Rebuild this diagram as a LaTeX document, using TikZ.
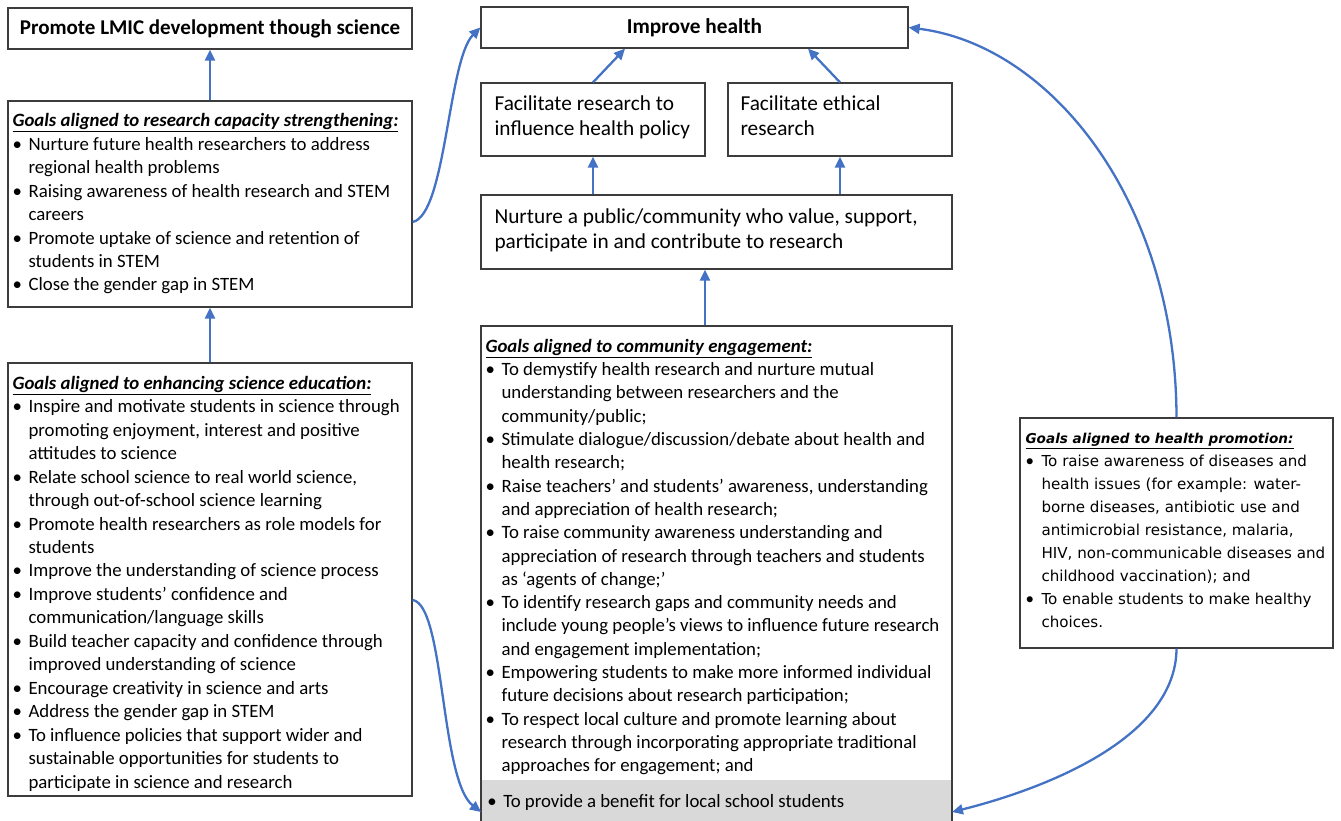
\documentclass[tikz,border=0pt]{standalone}
\usepackage{fontspec}
\setmainfont{Carlito}
\newfontfamily\verd{DejaVu Sans}
\usetikzlibrary{calc,arrows.meta}
\definecolor{arrowblue}{HTML}{4472C4}
\definecolor{boxline}{HTML}{3C3C3C}
\definecolor{greyband}{HTML}{D9D9D9}
\newcommand{\bl}{\makebox[16pt][l]{\textbullet}}
\newcommand{\hbl}{\makebox[16pt][l]{{\rmfamily\fontsize{17}{17}\selectfont\textbullet}}}
\newcommand{\hi}{\hspace*{16pt}}
\newcommand{\gtitle}[1]{\underline{\textbf{\textit{#1}}}}
\tikzset{
  box/.style={draw=boxline, line width=1.3pt, fill=white, inner sep=0pt},
  txt/.style={inner sep=0pt, anchor=north west, align=left},
  big/.style={font=\fontsize{21.3}{25}\selectfont},
  list/.style={font=\fontsize{18.8}{23.45}\selectfont},
  arr/.style={draw=arrowblue, line width=2.3pt, -{Triangle[length=11pt,width=10pt]}},
}
\begin{document}
\begin{tikzpicture}[x=1pt,y=-1pt]
\useasboundingbox (0,0) rectangle (1341,820);
% boxes
\node[box, minimum width=404, minimum height=41, font=\fontsize{21}{24}\selectfont\bfseries] (lmic) at (210,28.5) {Promote LMIC development though science};
\node[box, minimum width=404, minimum height=206] (cap) at (210,204) {};
\node[box, minimum width=404, minimum height=433] (edu) at (210,579.5) {};
\node[box, minimum width=427, minimum height=41, font=\fontsize{21.3}{24}\selectfont\bfseries] (health) at (694.5,27.5) {Improve health};
\node[box, minimum width=224, minimum height=73] (fr) at (593,119.5) {};
\node[box, minimum width=224, minimum height=73] (fe) at (840,119.5) {};
\node[box, minimum width=471, minimum height=74] (nur) at (716.5,232) {};
\node[box, minimum width=471, minimum height=496] (com) at (716.5,574) {};
\node[fill=greyband, inner sep=0pt, minimum width=469.5, minimum height=41] (band) at (716.5,800) {};
\node[box, minimum width=313, minimum height=230] (hp) at (1176.5,533) {};

% texts
\node[txt, big] (frt) at ($(fr.north west)+(14,13.4)$) {Facilitate research to\\influence health policy};
\node[txt, big] (fet) at ($(fe.north west)+(13,13.4)$) {Facilitate ethical\\research};
\node[txt, big] (nurt) at ($(nur.north west)+(14,14.4)$) {Nurture a public/community who value, support,\\participate in and contribute to research};

\node[txt, list] (capt) at ($(cap.north west)+(5,13.1)$) {\gtitle{Goals aligned to research capacity strengthening:}\\
\bl Nurture future health researchers to address\\
\hi regional health problems\\
\bl Raising awareness of health research and STEM\\
\hi careers\\
\bl Promote uptake of science and retention of\\
\hi students in STEM\\
\bl Close the gender gap in STEM};

\node[txt, list] (edut) at ($(edu.north west)+(5,13.6)$) {\gtitle{Goals aligned to enhancing science education:}\\
\bl Inspire and motivate students in science through\\
\hi promoting enjoyment, interest and positive\\
\hi attitudes to science\\
\bl Relate school science to real world science,\\
\hi through out-of-school science learning\\
\bl Promote health researchers as role models for\\
\hi students\\
\bl Improve the understanding of science process\\
\bl Improve students’ confidence and\\
\hi communication/language skills\\
\bl Build teacher capacity and confidence through\\
\hi improved understanding of science\\
\bl Encourage creativity in science and arts\\
\bl Address the gender gap in STEM\\
\bl To influence policies that support wider and\\
\hi sustainable opportunities for students to\\
\hi participate in science and research};

\node[txt, list, font=\fontsize{18.8}{23.3}\selectfont] (comt) at ($(com.north west)+(5,13.6)$) {\gtitle{Goals aligned to community engagement:}\\
\bl To demystify health research and nurture mutual\\
\hi understanding between researchers and the\\
\hi community/public;\\
\bl Stimulate dialogue/discussion/debate about health and\\
\hi health research;\\
\bl Raise teachers’ and students’ awareness, understanding\\
\hi and appreciation of health research;\\
\bl To raise community awareness understanding and\\
\hi appreciation of research through teachers and students\\
\hi as ‘agents of change;’\\
\bl To identify research gaps and community needs and\\
\hi include young people’s views to influence future research\\
\hi and engagement implementation;\\
\bl Empowering students to make more informed individual\\
\hi future decisions about research participation;\\
\bl To respect local culture and promote learning about\\
\hi research through incorporating appropriate traditional\\
\hi approaches for engagement; and};
\node[txt, list] (bandt) at ($(band.north west)+(5.5,14.6)$) {\bl To provide a benefit for local school students};

\node[txt, font=\verd\fontsize{15.1}{23}\selectfont] (hpt) at ($(hp.north west)+(6,15.7)$) {{\fontsize{13.6}{23}\selectfont\gtitle{Goals aligned to health promotion:}}\\
\hbl To raise awareness of diseases and\\
\hi health issues (for example: water-\\
\hi borne diseases, antibiotic use and\\
\hi antimicrobial resistance, malaria,\\
\hi HIV, non-communicable diseases and\\
\hi childhood vaccination); and\\
\hbl To enable students to make healthy\\
\hi choices.};

% straight arrows
\draw[arr] (cap.north) -- (lmic.south);
\draw[arr] (edu.north) -- (cap.south);
\draw[arr] (nur.north -| fr.south) -- (fr.south);
\draw[arr] (nur.north -| fe.south) -- (fe.south);
\draw[arr] ($(com.north)+(-11.5,0)$) -- ($(nur.south)+(-11.5,0)$);
\draw[arr] (fr.north) -- ($(health.south)+(-69.5,0)$);
\draw[arr] (fe.north) -- ($(health.south)+(113.5,0)$);

% curved arrows
\draw[arr] ($(cap.east)+(0,18)$) .. controls (446,215) and (448,60) .. (health.west);
\draw[arr] ($(edu.east)+(0,20.5)$) .. controls (445,605) and (440,780) .. ($(band.west)+(-0.5,12)$);
\draw[arr] (hp.north) .. controls (1176,200) and (1050,45) .. (health.east);
\draw[arr] (hp.south) .. controls (1176,740) and (1040,790) .. ($(band.east)+(0.5,12)$);
\end{tikzpicture}
\end{document}
